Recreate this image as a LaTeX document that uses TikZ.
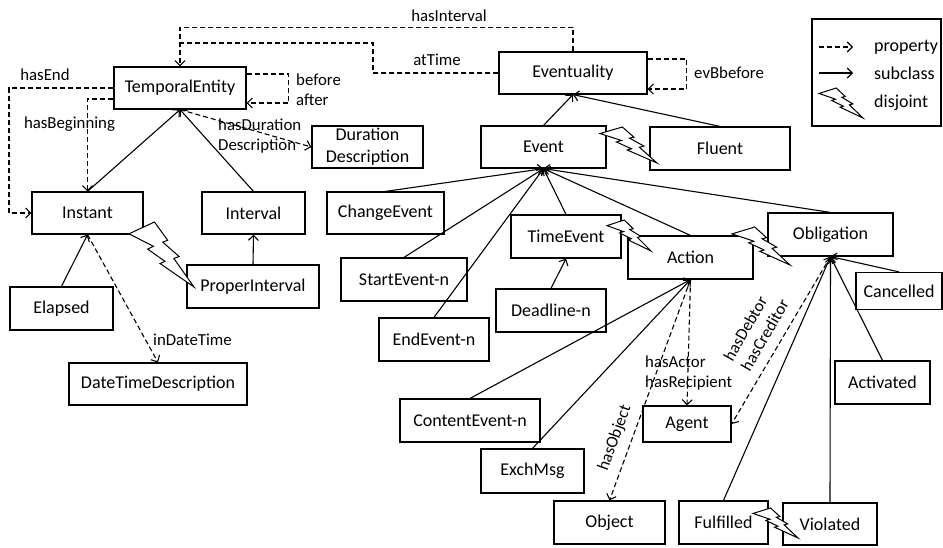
\documentclass[tikz,border=0pt]{standalone}
\usepackage{fontspec}
\setmainfont{Carlito}
\usetikzlibrary{arrows.meta,calc}
\begin{document}
\begin{tikzpicture}[x=1pt,y=-1pt,
  >={Straight Barb[length=5pt,width=10pt]},
  box/.style={draw,line width=1.2pt,inner sep=0pt,minimum height=42pt,font=\fontsize{18}{22}\selectfont,align=center},
  lbl/.style={inner sep=0pt,font=\fontsize{16.8}{20}\selectfont},
  legtext/.style={inner sep=0pt,anchor=west,font=\fontsize{18}{22}\selectfont},
  sub/.style={->,line width=1.1pt},
  prop/.style={->,line width=1.1pt,dash pattern=on 5pt off 3pt},
  propline/.style={line width=1.1pt,dash pattern=on 5pt off 3pt},
  boltline/.style={draw,fill=white,line width=1pt,line join=miter},
  bolt/.pic={\path[boltline] (0.3916,0) -- (0.5954,0.2815) -- (0.5190,0.3096) -- (0.7704,0.5305) -- (0.6913,0.5621) -- (1,1) -- (0.4778,0.6389) -- (0.5531,0.6052) -- (0.2875,0.4167) -- (0.3765,0.3742) -- (0,0.1816) -- cycle;}
]
\useasboundingbox (0,0) rectangle (943,547);

% boxes
\node[box,minimum width=132pt] (te) at (180,88) {TemporalEntity};
\node[box,minimum width=148pt] (ev) at (573,73) {Eventuality};
\node[box,minimum width=111pt] (dd) at (367.5,147) {Duration\\Description};
\node[box,minimum width=125pt] (evt) at (543.5,147) {Event};
\node[box,minimum width=140pt,minimum height=43pt] (fl) at (720,148.5) {Fluent};
\node[box,minimum width=111pt] (inst) at (87.5,213) {Instant};
\node[box,minimum width=103pt] (intv) at (253.5,213) {Interval};
\node[box,minimum width=132pt,minimum height=43pt] (pint) at (253,286.5) {ProperInterval};
\node[box,minimum width=103pt,minimum height=43pt] (ela) at (61.5,308.5) {Elapsed};
\node[box,minimum width=178pt] (dtd) at (158,384) {DateTimeDescription};
\node[box,minimum width=117pt] (ce) at (385.5,213) {ChangeEvent};
\node[box,minimum width=126pt,minimum height=43pt] (se) at (404,279.5) {StartEvent-n};
\node[box,minimum width=110pt,minimum height=43pt] (ee) at (434,339.5) {EndEvent-n};
\node[box,minimum width=110pt,minimum height=43pt] (tev) at (566,236.5) {TimeEvent};
\node[box,minimum width=110pt,minimum height=43pt] (dl) at (551,310.5) {Deadline-n};
\node[box,minimum width=125pt,minimum height=43pt] (act) at (690.5,257.5) {Action};
\node[box,minimum width=125pt,minimum height=43pt] (obl) at (830.5,234.5) {Obligation};
\node[box,minimum width=86pt,minimum height=37pt] (can) at (899,291) {Cancelled};
\node[box,minimum width=95pt,minimum height=43pt] (acv) at (882.5,382.5) {Activated};
\node[box,minimum width=140pt,minimum height=43pt] (cen) at (470,420.5) {ContentEvent-n};
\node[box,minimum width=103pt,minimum height=44pt] (exm) at (532.5,471) {ExchMsg};
\node[box,minimum width=111pt,minimum height=43pt] (obj) at (609.5,522.5) {Object};
\node[box,minimum width=88pt,minimum height=36pt] (ag) at (687,424) {Agent};
\node[box,minimum width=89pt,minimum height=43pt] (ful) at (723.5,522.5) {Fulfilled};
\node[box,minimum width=94pt,minimum height=42pt] (vio) at (830,524) {Violated};

% subclass connectors
\draw[sub] (inst.north) -- (te.south);
\draw[sub] (intv.north) -- (te.south);
\draw[sub] (ela.north) -- (inst.south);
\draw[sub] (pint.north) -- (intv.south);
\draw[sub] (evt.north) -- (ev.south);
\draw[sub] (fl.north) -- (ev.south);
\foreach \n in {ce,se,ee,tev,act,obl} \draw[sub] (\n.north) -- (evt.south);
\draw[sub] (dl.north) -- (tev.south);
\foreach \n in {cen,exm} \draw[sub] (\n.north) -- (act.south);
\foreach \n in {can,acv,vio,ful} \draw[sub] (\n.north) -- (obl.south);

% property connectors
\draw[prop] (ev.north) -- ++(0,-24) -| (te.north);
\coordinate (at1) at (373,43);
\draw[propline] (ev.west) -| (at1) -- (at1 -| te.north);
\draw[prop] ([yshift=14pt]te.east) -- ++(42,0) |- ([yshift=-15pt]te.east);
\draw[prop] ([yshift=14pt]ev.east) -- ++(39,0) |- ([yshift=-16pt]ev.east);
\coordinate (he) at (9,0);
\draw[prop] (te.west) -- (te.west -| he) |- (inst.west);
\draw[prop] ([yshift=-11pt]te.west) -| (inst.north);
\draw[prop] (te.south) -- (dd.west);
\draw[prop] (inst.south) -- (dtd.north);
\draw[prop] (act.south) -- (obj.north);
\draw[prop] (act.south) -- (ag.north);
\draw[prop] (obl.south) -- (ag.east);

% labels
\node[lbl] (lint) at (449,16) {hasInterval};
\node[lbl] (lat) at (437,60) {atTime};
\node[lbl] (lend) at (45,75) {hasEnd};
\node[lbl] (lbeg) at (69.5,124) {hasBeginning};
\node[lbl,align=left,anchor=west] (lba) at (296,90) {before\\after};
\node[lbl,align=left,anchor=west] (ldur) at (218,136) {hasDuration\\Description};
\node[lbl,anchor=west] (levb) at (694,73) {evBbefore};
\node[lbl,anchor=west] (lidt) at (153,340) {inDateTime};
\node[lbl,align=left,anchor=west] (lact) at (645,373) {hasActor\\hasRecipient};
\node[lbl,rotate=70] (lobj) at (615,438) {hasObject};
\node[lbl,rotate=60,align=left] (ldeb) at (756,330) {hasDebtor\\hasCreditor};

% disjoint bolts
\pic[xscale=57,yscale=36] at (600,127) {bolt};
\pic[xscale=65,yscale=65] at (129,222) {bolt};
\pic[xscale=44,yscale=31] at (607,220) {bolt};
\pic[xscale=58,yscale=38] at (732,227) {bolt};
\pic[xscale=45,yscale=30] at (753,508) {bolt};

% legend
\node[draw,line width=1.2pt,minimum width=129pt,minimum height=107pt,inner sep=0pt] (leg) at (876.5,72.5) {};
\coordinate (lg1a) at (819,47); \coordinate (lg1b) at (853,47);
\coordinate (lg2a) at (819,73); \coordinate (lg2b) at (853,73);
\draw[prop] (lg1a) -- (lg1b);
\draw[sub] (lg2a) -- (lg2b);
\pic[xscale=44,yscale=30] at (819,88) {bolt};
\node[legtext] (lgp) at (874,47) {property};
\node[legtext] (lgs) at (874,73) {subclass};
\node[legtext] (lgd) at (874,103) {disjoint};
\end{tikzpicture}
\end{document}
